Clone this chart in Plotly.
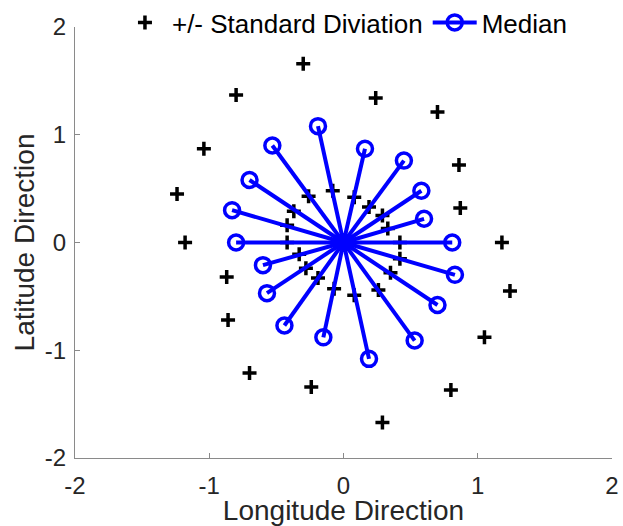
import plotly.graph_objects as go

# Median end points (one spoke per direction, every 20 degrees)
median_x = [0.81, 0.60, 0.58, 0.45, 0.16, -0.19, -0.53, -0.70, -0.83,
            -0.80, -0.60, -0.57, -0.44, -0.15, 0.19, 0.53, 0.70, 0.83]
median_y = [0.00, 0.22, 0.48, 0.76, 0.87, 1.08, 0.90, 0.58, 0.30,
            0.00, -0.21, -0.47, -0.77, -0.88, -1.08, -0.91, -0.58, -0.30]

# +/- standard deviation points (outer ring, then inner ring)
sd_outer_x = [1.18, 0.87, 0.86, 0.70, 0.24, -0.30, -0.80, -1.04, -1.24,
              -1.18, -0.87, -0.86, -0.70, -0.24, 0.29, 0.80, 1.05, 1.24]
sd_outer_y = [0.00, 0.32, 0.72, 1.21, 1.34, 1.66, 1.37, 0.87, 0.45,
              0.00, -0.32, -0.72, -1.21, -1.34, -1.67, -1.37, -0.88, -0.45]
sd_inner_x = [0.42, 0.33, 0.29, 0.19, 0.08, -0.08, -0.26, -0.37, -0.42,
              -0.42, -0.33, -0.28, -0.19, -0.07, 0.08, 0.26, 0.35, 0.42]
sd_inner_y = [0.00, 0.13, 0.25, 0.33, 0.42, 0.48, 0.43, 0.29, 0.16,
              0.00, -0.11, -0.24, -0.33, -0.43, -0.49, -0.44, -0.28, -0.15]

tick_vals = [-2, -1, 0, 1, 2]
tick_text = ["-2", "-1", "0", "1", "2"]

FONT = "Liberation Sans, Arial, sans-serif"

fig = go.Figure()

fig.add_trace(go.Scatter(
    x=sd_outer_x + sd_inner_x,
    y=sd_outer_y + sd_inner_y,
    mode="markers",
    name="+/- Standard Diviation",
    marker=dict(symbol="cross-thin-open", size=10, color="black",
                line=dict(color="black", width=3.5)),
))

# spokes from the origin to each median point
sx, sy = [], []
for mx, my in zip(median_x, median_y):
    sx += [0, mx, None]
    sy += [0, my, None]

fig.add_trace(go.Scatter(
    x=sx, y=sy,
    mode="lines+markers",
    name="Median",
    line=dict(color="#0000ff", width=4),
    marker=dict(symbol="circle-open", size=15, color="#0000ff",
                line=dict(color="#0000ff", width=3.5)),
))

axis_common = dict(
    range=[-2, 2],
    tickvals=tick_vals,
    ticktext=tick_text,
    showline=True,
    linecolor="#8a8a8a",
    linewidth=1,
    ticks="inside",
    ticklen=5,
    tickcolor="#8a8a8a",
    showgrid=False,
    zeroline=False,
    mirror=False,
    automargin=False,
    tickfont=dict(family=FONT, size=24, color="#262626"),
)

fig.update_layout(
    width=623, height=526,
    margin=dict(l=75, r=11, t=27, b=68, autoexpand=False),
    paper_bgcolor="white",
    plot_bgcolor="white",
    font=dict(family=FONT, color="#262626"),
    xaxis=dict(**axis_common,
               title=dict(text="Longitude Direction",
                          font=dict(family=FONT, size=28, color="#262626"),
                          standoff=6),
               ticklabelstandoff=6),
    yaxis=dict(**axis_common,
               title=dict(text="Latitude Direction",
                          font=dict(family=FONT, size=28, color="#262626"),
                          standoff=2),
               ticklabelstandoff=3),
    legend=dict(orientation="h", x=0.08, xanchor="left", y=1.065,
                yanchor="top", font=dict(family=FONT, size=26, color="black"),
                bgcolor="rgba(0,0,0,0)", itemwidth=44, tracegroupgap=0),
    showlegend=True,
)

fig.write_html("out.html")
